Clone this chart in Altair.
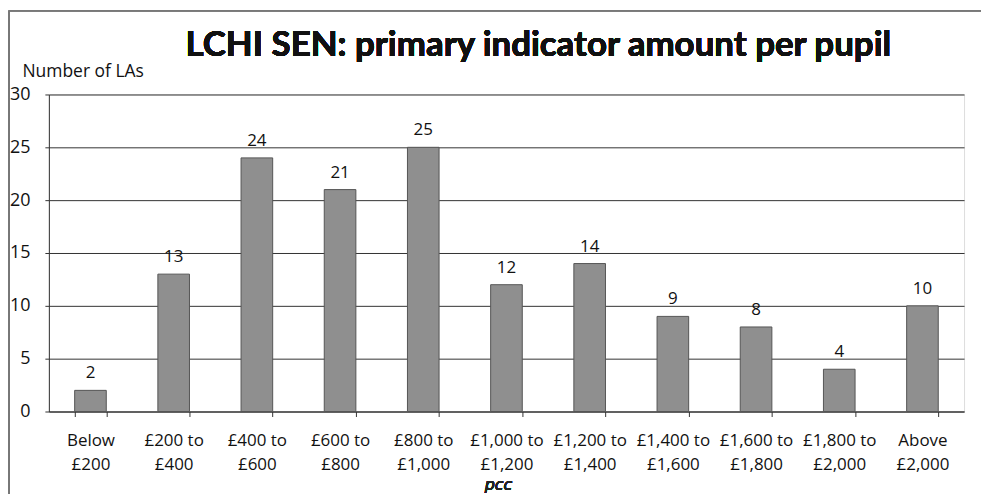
import altair as alt
import pandas as pd

categories = ["Below\n£200", "£200 to\n£400", "£400 to\n£600", "£600 to\n£800",
              "£800 to\n£1,000", "£1,000 to\n£1,200", "£1,200 to\n£1,400",
              "£1,400 to\n£1,600", "£1,600 to\n£1,800", "£1,800 to\n£2,000",
              "Above\n£2,000"]
counts = [2, 13, 24, 21, 25, 12, 14, 9, 8, 4, 10]
chart_title = "LCHI SEN: primary indicator amount per pupil"

df = pd.DataFrame({"band": categories, "n": counts})

FONT = "Open Sans"
W, H = 918, 318

xenc = alt.X("band:N", sort=categories, title=None,
             scale=alt.Scale(paddingInner=0.62, paddingOuter=0.31),
             axis=alt.Axis(labelAngle=0, labelExpr="split(datum.label, '\\n')",
                           labelFont=FONT, labelFontSize=17, labelColor="#111",
                           labelLineHeight=24, labelPadding=16, tickBand="extent",
                           tickSize=5, tickColor="#333", domainColor="#333",
                           labelBaseline="top"))
yenc = alt.Y("n:Q", title="Number  of LAs",
             scale=alt.Scale(domain=[0, 30], nice=False),
             axis=alt.Axis(values=[0, 5, 10, 15, 20, 25, 30], grid=True,
                           gridColor="#333", gridWidth=1, tickSize=4,
                           tickColor="#333", domainColor="#333",
                           labelFont=FONT, labelFontSize=18, labelColor="#111",
                           labelPadding=15,
                           titleAngle=0, titleX=-27, titleY=-14,
                           titleAlign="left", titleFont=FONT, titleFontSize=17.5,
                           titleFontWeight="normal", titleColor="#111"))

bars = alt.Chart(df).mark_bar(color="#8f8f8f", stroke="#555", strokeWidth=1).encode(
    x=xenc, y=yenc)

labels = alt.Chart(df).mark_text(font=FONT, fontSize=17, color="#111",
                                 baseline="bottom", dy=-8).encode(
    x=alt.X("band:N", sort=categories), y="n:Q", text="n:Q")

border_left = alt.Chart(df).mark_rule(color="#777", strokeWidth=1, clip=False).encode(
    x=alt.value(-40), y=alt.value(-84), y2=alt.value(H + 90))
border_top = alt.Chart(df).mark_rule(color="#777", strokeWidth=1, clip=False).encode(
    x=alt.value(-40), x2=alt.value(W + 30), y=alt.value(-84))

title = alt.Chart(df).mark_text(font="Lato", fontSize=35, fontWeight="bold",
                                color="#111", baseline="alphabetic", align="center",
                                clip=False).encode(
    x=alt.value(491), y=alt.value(-39), text=alt.value(chart_title))

note = alt.Chart(df).mark_text(font="DejaVu Sans", fontSize=16, fontStyle="italic",
                               color="#222", clip=False).encode(
    x=alt.value(451), y=alt.value(H + 74), text=alt.value("pcc"))

chart = alt.layer(bars, labels, border_left, border_top, title, note).properties(
    width=W, height=H,
    autosize=alt.AutoSizeParams(type="none"),
    padding={"left": 41, "top": 86, "right": 17, "bottom": 82},
).configure_view(stroke=None).configure(background="white")

chart.save("out.html", embed_options={"renderer": "svg", "actions": False})
